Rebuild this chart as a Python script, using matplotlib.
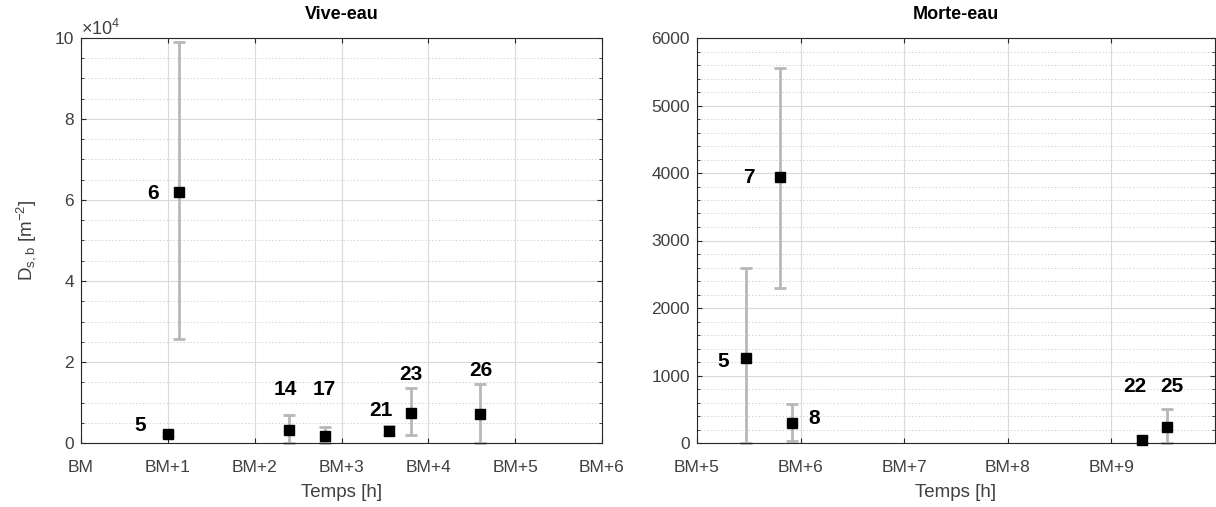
import numpy as np
import matplotlib
matplotlib.use("Agg")
import matplotlib.pyplot as plt
from matplotlib.ticker import MultipleLocator, FuncFormatter

plt.rcParams['font.family'] = ['Liberation Sans', 'DejaVu Sans']
plt.rcParams['mathtext.fontset'] = 'custom'
plt.rcParams['mathtext.rm'] = 'Liberation Sans'
plt.rcParams['mathtext.it'] = 'Liberation Sans:italic'

# Vive-eau (hours after BM, D in m^-2)
vive_ids = ["5", "6", "14", "17", "21", "23", "26"]
vive_t = [1.0, 1.13, 2.39, 2.81, 3.55, 3.80, 4.60]
vive_d = [2200, 62000, 3200, 1800, 3000, 7500, 7100]
vive_lo = [1800, 25600, 0, 0, 2000, 1900, 0]
vive_hi = [2700, 98900, 6900, 4000, 4300, 13500, 14600]

# Morte-eau
morte_ids = ["5", "7", "8", "22", "25"]
morte_t = [5.47, 5.80, 5.92, 9.30, 9.54]
morte_d = [1264, 3936, 301, 40, 237]
morte_lo = [0, 2300, 34, 0, 0]
morte_hi = [2590, 5560, 573, 100, 504]

vive_ticks = ["BM", "BM+1", "BM+2", "BM+3", "BM+4", "BM+5", "BM+6"]
morte_ticks = ["BM+5", "BM+6", "BM+7", "BM+8", "BM+9"]

# label offsets from the point (dx in h, dy in m^-2)
vive_lab = [(-0.32, 2000), (-0.30, -300), (-0.04, 10100), (-0.01, 11500),
            (-0.10, 5000), (0.0, 9500), (0.0, 10900)]
morte_lab = [(-0.22, -50), (-0.30, 0), (0.21, 55), (-0.07, 790), (0.04, 593)]

axcol = '#262626'
tickcol = '#404040'

fig = plt.figure(figsize=(12.16, 5.07), dpi=100)
ax1 = fig.add_axes([81 / 1216, 64 / 507, 521 / 1216, 405 / 507])
ax2 = fig.add_axes([697 / 1216, 64 / 507, 518 / 1216, 405 / 507])


def style(ax):
    for s in ax.spines.values():
        s.set_color(axcol)
        s.set_linewidth(0.8)
    ax.tick_params(which='both', direction='in', top=True, right=True,
                   colors=axcol, labelcolor=tickcol, labelsize=12.5)
    ax.tick_params(axis='x', pad=12)
    ax.tick_params(axis='y', pad=5)
    ax.tick_params(which='minor', length=2)
    ax.tick_params(axis='x', which='minor', bottom=False, top=False)
    ax.grid(True, which='major', color='#d9d9d9', linewidth=0.8)
    ax.grid(True, which='minor', axis='y', color='#d4d4d4', linestyle=(0, (1.5, 2)), linewidth=0.7)
    ax.set_axisbelow(True)
    ax.set_xlabel("Temps [h]", fontsize=13.5, color=tickcol, labelpad=7)


def draw(ax, t, d, lo, hi, ids, labs):
    d = np.array(d)
    yerr = [d - np.array(lo), np.array(hi) - d]
    ax.errorbar(t, d, yerr=yerr, fmt='none', ecolor='#b8b8b8', elinewidth=2,
                capsize=4, capthick=2, zorder=2, clip_on=False)
    ax.plot(t, d, 's', color='black', markersize=7, zorder=3, clip_on=False)
    for x, y, s, (dx, dy) in zip(t, d, ids, labs):
        ax.text(x + dx, y + dy, s, ha='center', va='center', fontsize=15,
                fontweight='bold', color='black')


draw(ax1, vive_t, vive_d, vive_lo, vive_hi, vive_ids, vive_lab)
ax1.set_xlim(0, 6)
ax1.set_xticks(range(len(vive_ticks)))
ax1.set_xticklabels(vive_ticks)
ax1.set_ylim(0, 100000)
ax1.yaxis.set_major_locator(MultipleLocator(20000))
ax1.yaxis.set_minor_locator(MultipleLocator(5000))
ax1.yaxis.set_major_formatter(FuncFormatter(lambda v, p: f"{v / 1e4:g}"))
ax1.text(0.0, 0.998, r'$\times10^4$', transform=ax1.transAxes, fontsize=13,
         color=tickcol, va='bottom', ha='left')
ax1.set_ylabel(r'D$_{\mathrm{s,b}}$ [m$^{\mathrm{-2}}$]', fontsize=13.5, color=tickcol, labelpad=12)
ax1.set_title("Vive-eau", fontsize=13, fontweight='bold', color='black', pad=14)
style(ax1)

draw(ax2, morte_t, morte_d, morte_lo, morte_hi, morte_ids, morte_lab)
ax2.set_xlim(5, 10)
ax2.set_xticks(range(5, 5 + len(morte_ticks)))
ax2.set_xticklabels(morte_ticks)
ax2.set_ylim(0, 6000)
ax2.yaxis.set_major_locator(MultipleLocator(1000))
ax2.yaxis.set_minor_locator(MultipleLocator(200))
ax2.set_title("Morte-eau", fontsize=13, fontweight='bold', color='black', pad=14)
style(ax2)

fig.savefig("out.png", dpi=100)
